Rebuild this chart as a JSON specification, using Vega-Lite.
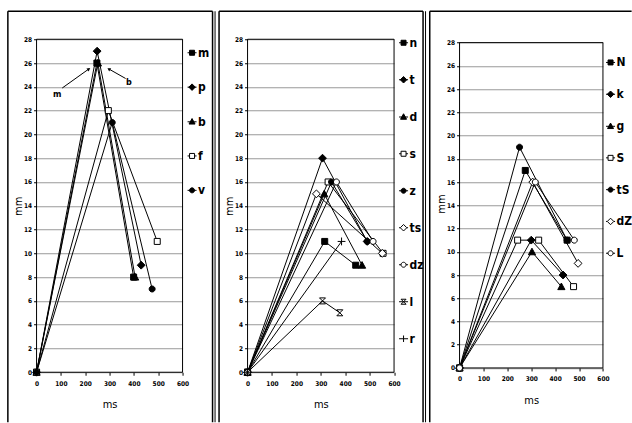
{
  "$schema": "https://vega.github.io/schema/vega-lite/v6.json",
  "padding": {"left": 6.55, "top": 10.25, "right": 0, "bottom": 0},
  "background": "white",
  "bounds": "flush",
  "spacing": 65,
  "datasets": {
    "p1": [
      {"s": "m", "x": 0, "y": 0}, {"s": "m", "x": 248, "y": 26}, {"s": "m", "x": 399, "y": 8},
      {"s": "p", "x": 0, "y": 0}, {"s": "p", "x": 249, "y": 27}, {"s": "p", "x": 430, "y": 9},
      {"s": "b", "x": 0, "y": 0}, {"s": "b", "x": 252, "y": 26}, {"s": "b", "x": 405, "y": 8},
      {"s": "f", "x": 0, "y": 0}, {"s": "f", "x": 295, "y": 22}, {"s": "f", "x": 496, "y": 11},
      {"s": "v", "x": 0, "y": 0}, {"s": "v", "x": 311, "y": 21}, {"s": "v", "x": 475, "y": 7}
    ],
    "p2": [
      {"s": "n", "x": 0, "y": 0}, {"s": "n", "x": 316, "y": 11}, {"s": "n", "x": 443, "y": 9},
      {"s": "t", "x": 0, "y": 0}, {"s": "t", "x": 307, "y": 18}, {"s": "t", "x": 490, "y": 11},
      {"s": "d", "x": 0, "y": 0}, {"s": "d", "x": 314, "y": 15}, {"s": "d", "x": 469, "y": 9},
      {"s": "s", "x": 0, "y": 0}, {"s": "s", "x": 330, "y": 16}, {"s": "s", "x": 555, "y": 10},
      {"s": "z", "x": 0, "y": 0}, {"s": "z", "x": 344, "y": 16}, {"s": "z", "x": 490, "y": 11},
      {"s": "ts", "x": 0, "y": 0}, {"s": "ts", "x": 282, "y": 15}, {"s": "ts", "x": 552, "y": 10},
      {"s": "dz", "x": 0, "y": 0}, {"s": "dz", "x": 364, "y": 16}, {"s": "dz", "x": 514, "y": 11},
      {"s": "l", "x": 0, "y": 0}, {"s": "l", "x": 307, "y": 6}, {"s": "l", "x": 378, "y": 5},
      {"s": "r", "x": 0, "y": 0}, {"s": "r", "x": 385, "y": 11}
    ],
    "p3": [
      {"s": "N", "x": 0, "y": 0}, {"s": "N", "x": 275, "y": 17}, {"s": "N", "x": 450, "y": 11},
      {"s": "k", "x": 0, "y": 0}, {"s": "k", "x": 300, "y": 11}, {"s": "k", "x": 433, "y": 8},
      {"s": "g", "x": 0, "y": 0}, {"s": "g", "x": 303, "y": 10}, {"s": "g", "x": 426, "y": 7},
      {"s": "S", "x": 0, "y": 0}, {"s": "S", "x": 243, "y": 11}, {"s": "S", "x": 331, "y": 11}, {"s": "S", "x": 477, "y": 7},
      {"s": "tS", "x": 0, "y": 0}, {"s": "tS", "x": 251, "y": 19}, {"s": "tS", "x": 450, "y": 11},
      {"s": "dZ", "x": 0, "y": 0}, {"s": "dZ", "x": 306, "y": 16}, {"s": "dZ", "x": 496, "y": 9},
      {"s": "L", "x": 0, "y": 0}, {"s": "L", "x": 317, "y": 16}, {"s": "L", "x": 480, "y": 11}
    ]
  },
  "hconcat": [
    {
      "width": 146, "height": 333,
      "data": {"name": "p1"},
      "layer": [
        {"mark": {"type": "line", "color": "black", "strokeWidth": 1},
         "encoding": {
           "x": {"field": "x", "type": "quantitative", "scale": {"domain": [0, 600], "nice": false, "zero": false},
                 "axis": {"values": [0, 100, 200, 300, 400, 500, 600], "tickCount": 30, "title": "ms", "grid": false, "tickSize": 3, "labelPadding": 5, "titlePadding": 12, "labelOverlap": false, "labelFlush": false}},
           "y": {"field": "y", "type": "quantitative", "scale": {"domain": [0, 28], "nice": false, "zero": false},
                 "axis": {"values": [0, 2, 4, 6, 8, 10, 12, 14, 16, 18, 20, 22, 24, 26, 28], "tickCount": 30, "title": "mm", "grid": true, "tickSize": 3, "labelPadding": 2, "titlePadding": 0, "labelOverlap": false, "labelFlush": false}},
           "detail": {"field": "s"}}},
        {"data": {"values": [{}]}, "mark": {"type": "rule", "stroke": "black", "strokeWidth": 1.5},
         "encoding": {"x": {"datum": -117.9, "type": "quantitative", "scale": {"domain": [0, 600], "nice": false, "zero": false}},
                      "y": {"datum": -4.204, "type": "quantitative", "scale": {"domain": [0, 28], "nice": false, "zero": false}},
                      "y2": {"datum": 30.354}}},
        {"data": {"values": [{}]}, "mark": {"type": "rule", "stroke": "black", "strokeWidth": 1.5},
         "encoding": {"x": {"datum": -117.9, "type": "quantitative", "scale": {"domain": [0, 600], "nice": false, "zero": false}},
                      "x2": {"datum": 723.3},
                      "y": {"datum": 30.354, "type": "quantitative", "scale": {"domain": [0, 28], "nice": false, "zero": false}}}},
        {"data": {"values": [{}]}, "mark": {"type": "rule", "stroke": "black", "strokeWidth": 1.5},
         "encoding": {"x": {"datum": 723.3, "type": "quantitative", "scale": {"domain": [0, 600], "nice": false, "zero": false}},
                      "y": {"datum": -4.204, "type": "quantitative", "scale": {"domain": [0, 28], "nice": false, "zero": false}},
                      "y2": {"datum": 30.354}}},
        {"data": {"values": [{}]}, "mark": {"type": "rule", "stroke": "black", "strokeWidth": 1},
         "encoding": {"x": {"datum": 733.6, "type": "quantitative", "scale": {"domain": [0, 600], "nice": false, "zero": false}},
                      "y": {"datum": -4.204, "type": "quantitative", "scale": {"domain": [0, 28], "nice": false, "zero": false}},
                      "y2": {"datum": 30.354}}},
        {"data": {"values": [{}]}, "mark": {"type": "rect", "filled": false, "stroke": "black", "strokeWidth": 1},
         "encoding": {"x": {"datum": 0, "type": "quantitative", "scale": {"domain": [0, 600], "nice": false, "zero": false}},
                      "x2": {"datum": 600},
                      "y": {"datum": 0, "type": "quantitative", "scale": {"domain": [0, 28], "nice": false, "zero": false}},
                      "y2": {"datum": 28}}},
        {"mark": {"type": "point", "filled": true, "stroke": "black", "strokeWidth": 1, "opacity": 1, "size": 36},
         "encoding": {
           "x": {"field": "x", "type": "quantitative", "scale": {"domain": [0, 600], "nice": false, "zero": false}},
           "y": {"field": "y", "type": "quantitative", "scale": {"domain": [0, 28], "nice": false, "zero": false}},
           "shape": {"field": "s", "type": "nominal", "legend": null, "scale": {"domain": ["m", "p", "b", "f", "v"],
             "range": ["M-1,-1H1V1H-1Z", "M0,-1.3L1.3,0L0,1.3L-1.3,0Z", "M0,-1.2L1.2,1H-1.2Z", "M-1,-1H1V1H-1Z", "M1,0A1,1,0,1,1,-1,0A1,1,0,1,1,1,0Z"]}},
           "fill": {"field": "s", "type": "nominal", "legend": null, "scale": {"domain": ["m", "p", "b", "f", "v"], "range": ["black", "black", "black", "white", "black"]}}}},
        {"mark": {"type": "point", "filled": true, "stroke": "black", "strokeWidth": 1, "opacity": 0, "size": 36},
         "encoding": {
           "x": {"field": "x", "type": "quantitative", "scale": {"domain": [0, 600], "nice": false, "zero": false}},
           "y": {"field": "y", "type": "quantitative", "scale": {"domain": [0, 28], "nice": false, "zero": false}},
           "shape": {"field": "s", "type": "nominal",
             "legend": {"title": null, "orient": "none", "legendX": 149.5, "legendY": 7.5, "rowPadding": 22.4,
                        "encode": {"symbols": {"update": {"stroke": {"value": "black"}, "strokeWidth": {"value": 1}, "opacity": {"value": 1}}}}},
             "scale": {"domain": ["m", "p", "b", "f", "v"],
             "range": ["M-1.8,0H1.8M-1,-1H1V1H-1Z", "M-1.8,0H1.8M0,-1.3L1.3,0L0,1.3L-1.3,0Z", "M-1.8,0.1H1.8M0,-1.2L1.2,1H-1.2Z", "M-1.8,0H-1M1,0H1.8M-1,-1H1V1H-1Z", "M-1.8,0H1.8M1,0A1,1,0,1,1,-1,0A1,1,0,1,1,1,0Z"]}},
           "fill": {"field": "s", "type": "nominal",
             "legend": {"title": null, "orient": "none", "legendX": 149.5, "legendY": 7.5, "rowPadding": 22.4,
                        "encode": {"symbols": {"update": {"stroke": {"value": "black"}, "strokeWidth": {"value": 1}, "opacity": {"value": 1}}}}},
             "scale": {"domain": ["m", "p", "b", "f", "v"], "range": ["black", "black", "black", "white", "black"]}}}},
        {"data": {"values": [{"t": "m", "x": 85, "y": 23.4}, {"t": "b", "x": 379, "y": 24.4}]},
         "mark": {"type": "text", "fontSize": 9, "fontWeight": "bold", "color": "black"},
         "encoding": {"x": {"field": "x", "type": "quantitative", "scale": {"domain": [0, 600], "nice": false, "zero": false}},
                      "y": {"field": "y", "type": "quantitative", "scale": {"domain": [0, 28], "nice": false, "zero": false}},
                      "text": {"field": "t"}}},
        {"data": {"values": [{"x": 105.6, "y": 23.9, "x2": 215, "y2": 25.5}, {"x": 366, "y": 24.7, "x2": 297, "y2": 25.5}]},
         "mark": {"type": "rule", "stroke": "black", "strokeWidth": 1},
         "encoding": {"x": {"field": "x", "type": "quantitative", "scale": {"domain": [0, 600], "nice": false, "zero": false}},
                      "y": {"field": "y", "type": "quantitative", "scale": {"domain": [0, 28], "nice": false, "zero": false}},
                      "x2": {"field": "x2"}, "y2": {"field": "y2"}}},
        {"data": {"values": [{"x": 215, "y": 25.5}]},
         "mark": {"type": "point", "shape": "triangle-up", "filled": true, "color": "black", "opacity": 1, "size": 14, "angle": 54},
         "encoding": {"x": {"field": "x", "type": "quantitative", "scale": {"domain": [0, 600], "nice": false, "zero": false}},
                      "y": {"field": "y", "type": "quantitative", "scale": {"domain": [0, 28], "nice": false, "zero": false}}}},
        {"data": {"values": [{"x": 297, "y": 25.5}]},
         "mark": {"type": "point", "shape": "triangle-up", "filled": true, "color": "black", "opacity": 1, "size": 14, "angle": -59},
         "encoding": {"x": {"field": "x", "type": "quantitative", "scale": {"domain": [0, 600], "nice": false, "zero": false}},
                      "y": {"field": "y", "type": "quantitative", "scale": {"domain": [0, 28], "nice": false, "zero": false}}}}
      ],
      "resolve": {"scale": {"shape": "independent", "fill": "independent"}}
    },
    {
      "width": 146.5, "height": 333,
      "data": {"name": "p2"},
      "layer": [
        {"mark": {"type": "line", "color": "black", "strokeWidth": 1},
         "encoding": {
           "x": {"field": "x", "type": "quantitative", "scale": {"domain": [0, 600], "nice": false, "zero": false},
                 "axis": {"values": [0, 100, 200, 300, 400, 500, 600], "tickCount": 30, "title": "ms", "grid": false, "tickSize": 3, "labelPadding": 5, "titlePadding": 12, "labelOverlap": false, "labelFlush": false}},
           "y": {"field": "y", "type": "quantitative", "scale": {"domain": [0, 28], "nice": false, "zero": false},
                 "axis": {"values": [0, 2, 4, 6, 8, 10, 12, 14, 16, 18, 20, 22, 24, 26, 28], "tickCount": 30, "title": "mm", "grid": true, "tickSize": 3, "labelPadding": 2, "titlePadding": 0, "labelOverlap": false, "labelFlush": false}},
           "detail": {"field": "s"}}},
        {"data": {"values": [{}]}, "mark": {"type": "rule", "stroke": "black", "strokeWidth": 1.5},
         "encoding": {"x": {"datum": -116.7, "type": "quantitative", "scale": {"domain": [0, 600], "nice": false, "zero": false}},
                      "y": {"datum": -4.204, "type": "quantitative", "scale": {"domain": [0, 28], "nice": false, "zero": false}},
                      "y2": {"datum": 30.354}}},
        {"data": {"values": [{}]}, "mark": {"type": "rule", "stroke": "black", "strokeWidth": 1.5},
         "encoding": {"x": {"datum": -116.7, "type": "quantitative", "scale": {"domain": [0, 600], "nice": false, "zero": false}},
                      "x2": {"datum": 718.8},
                      "y": {"datum": 30.354, "type": "quantitative", "scale": {"domain": [0, 28], "nice": false, "zero": false}}}},
        {"data": {"values": [{}]}, "mark": {"type": "rule", "stroke": "black", "strokeWidth": 1.5},
         "encoding": {"x": {"datum": 718.8, "type": "quantitative", "scale": {"domain": [0, 600], "nice": false, "zero": false}},
                      "y": {"datum": -4.204, "type": "quantitative", "scale": {"domain": [0, 28], "nice": false, "zero": false}},
                      "y2": {"datum": 30.354}}},
        {"data": {"values": [{}]}, "mark": {"type": "rule", "stroke": "black", "strokeWidth": 1},
         "encoding": {"x": {"datum": 729, "type": "quantitative", "scale": {"domain": [0, 600], "nice": false, "zero": false}},
                      "y": {"datum": -4.204, "type": "quantitative", "scale": {"domain": [0, 28], "nice": false, "zero": false}},
                      "y2": {"datum": 30.354}}},
        {"data": {"values": [{}]}, "mark": {"type": "rect", "filled": false, "stroke": "black", "strokeWidth": 1},
         "encoding": {"x": {"datum": 0, "type": "quantitative", "scale": {"domain": [0, 600], "nice": false, "zero": false}},
                      "x2": {"datum": 600},
                      "y": {"datum": 0, "type": "quantitative", "scale": {"domain": [0, 28], "nice": false, "zero": false}},
                      "y2": {"datum": 28}}},
        {"mark": {"type": "point", "filled": true, "stroke": "black", "strokeWidth": 1, "opacity": 1, "size": 36},
         "encoding": {
           "x": {"field": "x", "type": "quantitative", "scale": {"domain": [0, 600], "nice": false, "zero": false}},
           "y": {"field": "y", "type": "quantitative", "scale": {"domain": [0, 28], "nice": false, "zero": false}},
           "shape": {"field": "s", "type": "nominal", "legend": null, "scale": {"domain": ["n", "t", "d", "s", "z", "ts", "dz", "l", "r"],
             "range": ["M-1,-1H1V1H-1Z", "M0,-1.3L1.3,0L0,1.3L-1.3,0Z", "M0,-1.2L1.2,1H-1.2Z", "M-1,-1H1V1H-1Z", "M1,0A1,1,0,1,1,-1,0A1,1,0,1,1,1,0Z", "M0,-1.3L1.3,0L0,1.3L-1.3,0Z", "M1,0A1,1,0,1,1,-1,0A1,1,0,1,1,1,0Z", "M-1,-1L1,1M1,-1L-1,1M-1,-1H1M-1,1H1", "M-1.3,0H1.3M0,-1.3V1.3"]}},
           "fill": {"field": "s", "type": "nominal", "legend": null, "scale": {"domain": ["n", "t", "d", "s", "z", "ts", "dz", "l", "r"], "range": ["black", "black", "black", "white", "black", "white", "white", "white", "white"]}}}},
        {"mark": {"type": "point", "filled": true, "stroke": "black", "strokeWidth": 1, "opacity": 0, "size": 36},
         "encoding": {
           "x": {"field": "x", "type": "quantitative", "scale": {"domain": [0, 600], "nice": false, "zero": false}},
           "y": {"field": "y", "type": "quantitative", "scale": {"domain": [0, 28], "nice": false, "zero": false}},
           "shape": {"field": "s", "type": "nominal",
             "legend": {"title": null, "orient": "none", "legendX": 150, "legendY": -2.5, "rowPadding": 25,
                        "encode": {"symbols": {"update": {"stroke": {"value": "black"}, "strokeWidth": {"value": 1}, "opacity": {"value": 1}}}}},
             "scale": {"domain": ["n", "t", "d", "s", "z", "ts", "dz", "l", "r"],
             "range": ["M-1.8,0H1.8M-1,-1H1V1H-1Z", "M-1.8,0H1.8M0,-1.3L1.3,0L0,1.3L-1.3,0Z", "M-1.8,0.1H1.8M0,-1.2L1.2,1H-1.2Z", "M-1.8,0H-1M1,0H1.8M-1,-1H1V1H-1Z", "M-1.8,0H1.8M1,0A1,1,0,1,1,-1,0A1,1,0,1,1,1,0Z", "M-1.8,0H-1.3M1.3,0H1.8M0,-1.3L1.3,0L0,1.3L-1.3,0Z", "M-1.8,0H-1M1,0H1.8M1,0A1,1,0,1,1,-1,0A1,1,0,1,1,1,0Z", "M-1.8,0H1.8M-1,-1L1,1M1,-1L-1,1M-1,-1H1M-1,1H1", "M-1.8,0H1.8M0,-1.3V1.3"]}},
           "fill": {"field": "s", "type": "nominal",
             "legend": {"title": null, "orient": "none", "legendX": 150, "legendY": -2.5, "rowPadding": 25,
                        "encode": {"symbols": {"update": {"stroke": {"value": "black"}, "strokeWidth": {"value": 1}, "opacity": {"value": 1}}}}},
             "scale": {"domain": ["n", "t", "d", "s", "z", "ts", "dz", "l", "r"], "range": ["black", "black", "black", "white", "black", "white", "white", "white", "white"]}}}}
      ],
      "resolve": {"scale": {"shape": "independent", "fill": "independent"}}
    },
    {
      "width": 143.4, "height": 328.7,
      "data": {"name": "p3"},
      "layer": [
        {"mark": {"type": "line", "color": "black", "strokeWidth": 1},
         "encoding": {
           "x": {"field": "x", "type": "quantitative", "scale": {"domain": [0, 600], "nice": false, "zero": false},
                 "axis": {"values": [0, 100, 200, 300, 400, 500, 600], "tickCount": 30, "title": "ms", "grid": false, "tickSize": 3, "labelPadding": 5, "titlePadding": 12, "labelOverlap": false, "labelFlush": false}},
           "y": {"field": "y", "type": "quantitative", "scale": {"domain": [0, 28.293], "nice": false, "zero": false},
                 "axis": {"values": [0, 2, 4, 6, 8, 10, 12, 14, 16, 18, 20, 22, 24, 26, 28], "tickCount": 30, "title": "mm", "grid": true, "tickSize": 3, "labelPadding": 2, "titlePadding": 0, "labelOverlap": false, "labelFlush": false}},
           "detail": {"field": "s"}}},
        {"data": {"values": [{}]}, "mark": {"type": "rule", "stroke": "black", "strokeWidth": 1.5},
         "encoding": {"x": {"datum": -124.7, "type": "quantitative", "scale": {"domain": [0, 600], "nice": false, "zero": false}},
                      "y": {"datum": -4.674, "type": "quantitative", "scale": {"domain": [0, 28.293], "nice": false, "zero": false}},
                      "y2": {"datum": 30.703}}},
        {"data": {"values": [{}]}, "mark": {"type": "rule", "stroke": "black", "strokeWidth": 1.5},
         "encoding": {"x": {"datum": -124.7, "type": "quantitative", "scale": {"domain": [0, 600], "nice": false, "zero": false}},
                      "x2": {"datum": 720},
                      "y": {"datum": 30.703, "type": "quantitative", "scale": {"domain": [0, 28.293], "nice": false, "zero": false}}}},
        {"data": {"values": [{}]}, "mark": {"type": "rect", "filled": false, "stroke": "black", "strokeWidth": 1},
         "encoding": {"x": {"datum": 0, "type": "quantitative", "scale": {"domain": [0, 600], "nice": false, "zero": false}},
                      "x2": {"datum": 600},
                      "y": {"datum": 0, "type": "quantitative", "scale": {"domain": [0, 28.293], "nice": false, "zero": false}},
                      "y2": {"datum": 28}}},
        {"mark": {"type": "point", "filled": true, "stroke": "black", "strokeWidth": 1, "opacity": 1, "size": 36},
         "encoding": {
           "x": {"field": "x", "type": "quantitative", "scale": {"domain": [0, 600], "nice": false, "zero": false}},
           "y": {"field": "y", "type": "quantitative", "scale": {"domain": [0, 28.293], "nice": false, "zero": false}},
           "shape": {"field": "s", "type": "nominal", "legend": null, "scale": {"domain": ["N", "k", "g", "S", "tS", "dZ", "L"],
             "range": ["M-1,-1H1V1H-1Z", "M0,-1.3L1.3,0L0,1.3L-1.3,0Z", "M0,-1.2L1.2,1H-1.2Z", "M-1,-1H1V1H-1Z", "M1,0A1,1,0,1,1,-1,0A1,1,0,1,1,1,0Z", "M0,-1.3L1.3,0L0,1.3L-1.3,0Z", "M1,0A1,1,0,1,1,-1,0A1,1,0,1,1,1,0Z"]}},
           "fill": {"field": "s", "type": "nominal", "legend": null, "scale": {"domain": ["N", "k", "g", "S", "tS", "dZ", "L"], "range": ["black", "black", "black", "white", "black", "white", "white"]}}}},
        {"mark": {"type": "point", "filled": true, "stroke": "black", "strokeWidth": 1, "opacity": 0, "size": 36},
         "encoding": {
           "x": {"field": "x", "type": "quantitative", "scale": {"domain": [0, 600], "nice": false, "zero": false}},
           "y": {"field": "y", "type": "quantitative", "scale": {"domain": [0, 28.293], "nice": false, "zero": false}},
           "shape": {"field": "s", "type": "nominal",
             "legend": {"title": null, "orient": "none", "legendX": 145, "legendY": 17.2, "rowPadding": 19.8,
                        "encode": {"symbols": {"update": {"stroke": {"value": "black"}, "strokeWidth": {"value": 1}, "opacity": {"value": 1}}}}},
             "scale": {"domain": ["N", "k", "g", "S", "tS", "dZ", "L"],
             "range": ["M-1.8,0H1.8M-1,-1H1V1H-1Z", "M-1.8,0H1.8M0,-1.3L1.3,0L0,1.3L-1.3,0Z", "M-1.8,0.1H1.8M0,-1.2L1.2,1H-1.2Z", "M-1.8,0H-1M1,0H1.8M-1,-1H1V1H-1Z", "M-1.8,0H1.8M1,0A1,1,0,1,1,-1,0A1,1,0,1,1,1,0Z", "M-1.8,0H-1.3M1.3,0H1.8M0,-1.3L1.3,0L0,1.3L-1.3,0Z", "M-1.8,0H-1M1,0H1.8M1,0A1,1,0,1,1,-1,0A1,1,0,1,1,1,0Z"]}},
           "fill": {"field": "s", "type": "nominal",
             "legend": {"title": null, "orient": "none", "legendX": 145, "legendY": 17.2, "rowPadding": 19.8,
                        "encode": {"symbols": {"update": {"stroke": {"value": "black"}, "strokeWidth": {"value": 1}, "opacity": {"value": 1}}}}},
             "scale": {"domain": ["N", "k", "g", "S", "tS", "dZ", "L"], "range": ["black", "black", "black", "white", "black", "white", "white"]}}}}
      ],
      "resolve": {"scale": {"shape": "independent", "fill": "independent"}}
    }
  ],
  "resolve": {"scale": {"x": "independent", "y": "independent", "shape": "independent", "fill": "independent"}},
  "config": {
    "font": "'Liberation Sans Narrow', 'DejaVu Sans Condensed', 'Arial Narrow', sans-serif",
    "view": {"stroke": null},
    "axis": {
      "domain": false,
      "labelFont": "'Liberation Sans Narrow', 'DejaVu Sans Condensed', 'Arial Narrow', sans-serif",
      "labelFontWeight": "bold",
      "labelFontSize": 6.5,
      "labelColor": "black",
      "tickColor": "black",
      "tickWidth": 1,
      "titleFont": "'Liberation Sans Narrow', 'DejaVu Sans Condensed', 'Arial Narrow', sans-serif",
      "titleFontSize": 11,
      "titleFontWeight": "normal",
      "titleColor": "black",
      "gridColor": "#999999",
      "gridWidth": 1,
      "gridOpacity": 1
    },
    "legend": {
      "labelFont": "'Liberation Sans Narrow', 'DejaVu Sans Condensed', 'Arial Narrow', sans-serif",
      "labelFontSize": 12,
      "labelFontWeight": "bold",
      "labelColor": "black",
      "labelOffset": 0,
      "symbolSize": 25,
      "symbolStrokeColor": "black",
      "symbolStrokeWidth": 1,
      "symbolOpacity": 1,
      "padding": 0
    },
    "text": {"font": "'Liberation Sans Narrow', 'DejaVu Sans Condensed', 'Arial Narrow', sans-serif"}
  }
}
